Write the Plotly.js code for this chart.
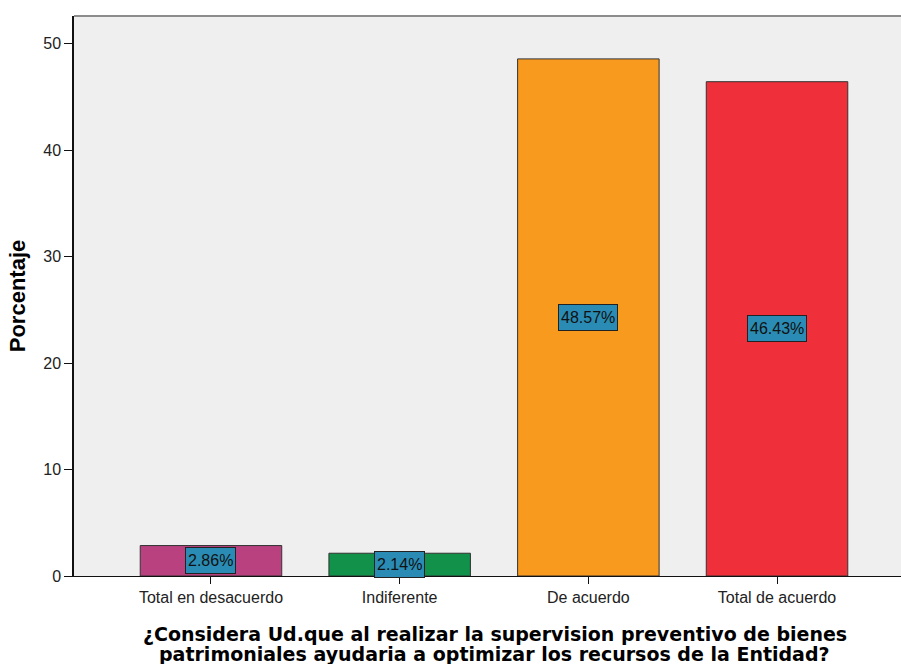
<!DOCTYPE html>
<html>
<head>
<meta charset="utf-8">
<script src="https://cdn.plot.ly/plotly-3.0.1.min.js"></script>
<style>
  body { margin: 0; background: #fff; }
  #chart { width: 901px; height: 664px; }
</style>
</head>
<body>
<div id="chart"></div>
<script>
// categories and percentages
var categories = ["Total en desacuerdo", "Indiferente", "De acuerdo", "Total de acuerdo"];
var percents = [2.86, 2.14, 48.57, 46.43];
var barColors = ["#b9417f", "#11914a", "#f79a1e", "#ef303a"];
var yTicks = [0, 10, 20, 30, 40, 50];
var xTitleLines = [
  "¿Considera Ud.que al realizar la supervision preventivo de bienes",
  "patrimoniales ayudaria a optimizar los recursos de la Entidad?"
];

var trace = {
  x: categories,
  y: percents,
  type: "bar",
  width: 0.75,
  marker: { color: barColors, line: { color: "#333333", width: 1 } },
  hoverinfo: "none"
};

// value labels in boxes at the middle of each bar
var labels = categories.map(function(c, i) {
  return {
    x: c, y: percents[i] / 2, xref: "x", yref: "y",
    text: percents[i].toFixed(2) + "%",
    showarrow: false,
    font: { family: "Liberation Sans, Arial", size: 16, color: "#111" },
    bgcolor: "#2a8cb4",
    bordercolor: "#222",
    borderwidth: 1,
    borderpad: 2,
    height: 21
  };
});

// x axis title drawn as two tight lines, like the original
var titleY = [-0.1027, -0.1384];
var titleNotes = xTitleLines.map(function(t, i) {
  return {
    x: 0.509, y: titleY[i], xref: "paper", yref: "paper",
    xanchor: "center", yanchor: "middle",
    text: t, showarrow: false,
    font: { family: "DejaVu Sans", size: 19, color: "#000", weight: "bold" }
  };
});

var layout = {
  width: 901,
  height: 664,
  margin: { l: 74, r: 0, t: 16, b: 88 },
  paper_bgcolor: "#ffffff",
  plot_bgcolor: "#efefef",
  showlegend: false,
  font: { family: "Liberation Sans, Arial", size: 16, color: "#222" },
  xaxis: {
    type: "category",
    range: [-0.726, 3.657],
    showline: true, linecolor: "#111", linewidth: 1,
    ticks: "outside", ticklen: 7, tickcolor: "#111",
    showgrid: false, zeroline: false,
    tickfont: { size: 16 }
  },
  yaxis: {
    range: [0, 52.6],
    tickvals: yTicks,
    showline: true, linecolor: "#111", linewidth: 1.5,
    ticks: "outside", ticklen: 8, tickcolor: "#111",
    showgrid: false, zeroline: false,
    tickfont: { size: 16 },
    title: {
      text: "Porcentaje",
      font: { family: "Liberation Sans, Arial", size: 22, color: "#000", weight: "bold" },
      standoff: 12
    }
  },
  annotations: labels.concat(titleNotes),
  shapes: [
    { type: "line", xref: "paper", yref: "paper", x0: 0, x1: 1, y0: 1, y1: 1,
      line: { color: "#8c8c8c", width: 2 } }
  ]
};

Plotly.newPlot("chart", [trace], layout, { displayModeBar: false });
</script>
</body>
</html>
